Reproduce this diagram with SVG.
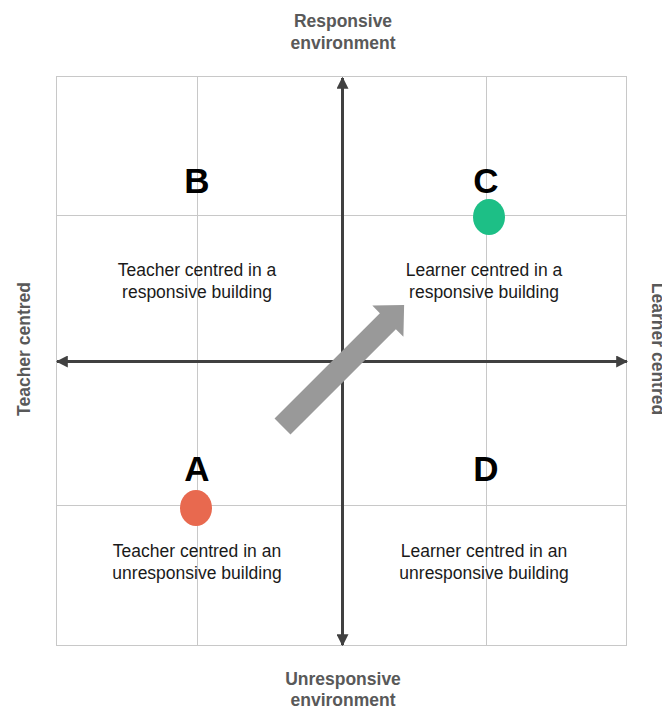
<svg xmlns="http://www.w3.org/2000/svg" width="662" height="709" viewBox="0 0 662 709">
  <style>
    .grid { stroke: #c8c8c8; stroke-width: 1; fill: none; }
    .axis { stroke: #404040; stroke-width: 3; fill: none; }
    .title { font-family: "Liberation Sans", Arial, sans-serif; font-weight: bold; font-size: 17.5px; fill: #595959; text-anchor: middle; }
    .letter { font-family: "Liberation Sans", Arial, sans-serif; font-weight: bold; font-size: 35px; fill: #000; text-anchor: middle; }
    .desc { font-family: "Liberation Sans", Arial, sans-serif; font-size: 17.5px; fill: #1a1a1a; text-anchor: middle; }
  </style>
  <defs>
    <marker id="axisHead" viewBox="0 0 10 10" refX="9" refY="5" markerWidth="4" markerHeight="4" orient="auto">
      <path d="M0,0 L10,5 L0,10 z" fill="#404040"/>
    </marker>
  </defs>

  <!-- background grid -->
  <g id="grid">
    <rect class="grid" x="56.5" y="76.5" width="570" height="569"/>
    <line class="grid" x1="197.5" y1="76" x2="197.5" y2="646"/>
    <line class="grid" x1="486.5" y1="76" x2="486.5" y2="646"/>
    <line class="grid" x1="56" y1="215.5" x2="627" y2="215.5"/>
    <line class="grid" x1="56" y1="505.5" x2="627" y2="505.5"/>
  </g>

  <!-- axes -->
  <g id="connectors">
    <line class="axis" x1="342.5" y1="361" x2="342.5" y2="78" marker-end="url(#axisHead)"/>
    <line class="axis" x1="342.5" y1="361" x2="342.5" y2="645" marker-end="url(#axisHead)"/>
    <line class="axis" x1="342" y1="361.5" x2="57" y2="361.5" marker-end="url(#axisHead)"/>
    <line class="axis" x1="342" y1="361.5" x2="627" y2="361.5" marker-end="url(#axisHead)"/>
    <!-- direction of travel -->
    <path id="shift-arrow" transform="translate(282.5,426.5) rotate(-45)"
          d="M0,-11.3 L149,-11.3 L149,-22 L172,0 L149,22 L149,11.3 L0,11.3 z" fill="#999999"/>
  </g>

  <!-- axis titles -->
  <g id="axis-top">
    <text class="title" x="343" y="27">Responsive</text>
    <text class="title" x="343" y="49">environment</text>
  </g>
  <g id="axis-bottom">
    <text class="title" x="343" y="685">Unresponsive</text>
    <text class="title" x="343" y="706">environment</text>
  </g>
  <g id="axis-left">
    <text class="title" transform="translate(30,349) rotate(-90)">Teacher centred</text>
  </g>
  <g id="axis-right">
    <text class="title" transform="translate(652,349) rotate(90)">Learner centred</text>
  </g>

  <!-- quadrants -->
  <g id="quadrant-B">
    <text class="letter" x="197" y="193">B</text>
    <text class="desc" x="197" y="276">Teacher centred in a</text>
    <text class="desc" x="197" y="298">responsive building</text>
  </g>
  <g id="quadrant-C">
    <text class="letter" x="486" y="193">C</text>
    <ellipse cx="489" cy="217" rx="16" ry="18" fill="#1dbf86"/>
    <text class="desc" x="484" y="276">Learner centred in a</text>
    <text class="desc" x="484" y="298">responsive building</text>
  </g>
  <g id="quadrant-A">
    <text class="letter" x="197" y="481">A</text>
    <ellipse cx="196" cy="508" rx="16" ry="18" fill="#e8694f"/>
    <text class="desc" x="197" y="557">Teacher centred in an</text>
    <text class="desc" x="197" y="579">unresponsive building</text>
  </g>
  <g id="quadrant-D">
    <text class="letter" x="486" y="481">D</text>
    <text class="desc" x="484" y="557">Learner centred in an</text>
    <text class="desc" x="484" y="579">unresponsive building</text>
  </g>
</svg>
